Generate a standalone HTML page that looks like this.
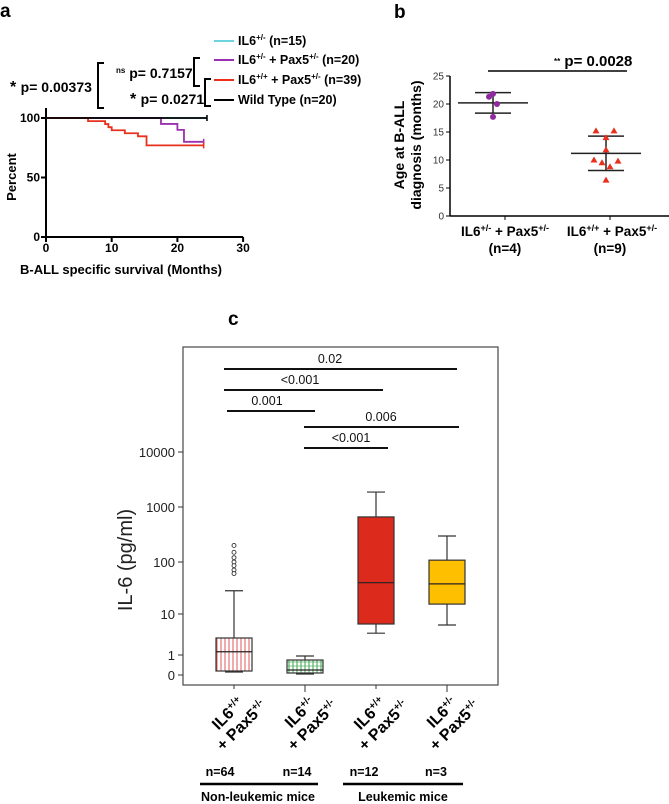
<!DOCTYPE html>
<html><head><meta charset="utf-8"><style>
html,body{margin:0;padding:0;background:#fff;}
svg{display:block;font-family:"Liberation Sans",Arial,sans-serif;}
.b{font-weight:bold;}
</style></head><body>
<svg id="fig" width="669" height="804" viewBox="0 0 669 804" xmlns="http://www.w3.org/2000/svg">
<g id="pa">
<text x="0" y="17" class="b" font-size="19">a</text>
</g>
<g id="pb">
<text x="394" y="18" class="b" font-size="19">b</text>
</g>
<g id="pc">
<text x="228" y="325" class="b" font-size="19">c</text>
</g>
</svg>
<script>
// ---------- Panel A data ----------
const aXTicks=[0,10,20,30];
const aYTicks=[0,50,100];
const redTimes=[6.4,9.0,9.5,10.0,12.0,14.0,15.3];
const redSurv=[97.4,94.9,92.3,89.7,87.2,84.6,77];
const purpleTimes=[17.5,20.0,21.0];
const purpleSurv=[95,90,80];
const blackEnd=24.5, redEnd=24, purpleEnd=24, cyanEnd=24.5;
// ---------- Panel B data ----------
const bGroups=["IL6+/- + Pax5+/-","IL6+/+ + Pax5+/-"];
const bPurple=[21.3,21.8,20.0,17.7];
const bRed=[15.2,15.2,14.0,11.8,10.0,9.5,9.8,8.8,6.4];
const bYTicks=[0,5,10,15,20,25];
// ---------- Panel C data ----------
const cTicks=[0,1,10,100,1000,10000];
const cGroups=["IL6+/+|+ Pax5+/-","IL6+/-|+ Pax5+/-","IL6+/+|+ Pax5+/-","IL6+/-|+ Pax5+/-"];
const cN=["n=64","n=14","n=12","n=3"];
const cWhiskLo=[0.15,0.05,3.4,5.4];
const cQ1=[0.2,0.1,5.7,15.5];
const cMed=[1.2,0.25,40,38];
const cQ3=[2.6,0.75,660,108];
const cWhiskHi=[28,0.95,1870,297];
const cOutliers=[[200,150,120,100,85,70,60],[],[],[]];
const cSig=[["0.02",0,3,0],["<0.001",0,2,1],["0.001",0,1,2],["0.006",1,3,3],["<0.001",1,2,4]];

const NS="http://www.w3.org/2000/svg";
function mk(tag,attrs,parent,txt){const e=document.createElementNS(NS,tag);for(const k in attrs)e.setAttribute(k,attrs[k]);if(txt!==undefined)e.textContent=txt;parent.appendChild(e);return e;}

// ===== Panel A =====
const pa=document.getElementById('pa');
const ax=m=>46+m*6.57, ay=p=>237-p*1.19;
let e;
e=mk('line',{x1:46,y1:ay(0),x2:ax(30),y2:ay(0),stroke:'#000','stroke-width':2},pa);

e=mk('line',{x1:46,y1:ay(0),x2:46,y2:108,stroke:'#000','stroke-width':2},pa);

aXTicks.forEach(v=>{mk('line',{x1:ax(v),y1:ay(0),x2:ax(v),y2:ay(0)+5,stroke:'#000','stroke-width':2},pa);
 e=mk('text',{x:ax(v),y:252,'text-anchor':'middle','font-size':12,class:'b'},pa,v);
 });
aYTicks.forEach(v=>{mk('line',{x1:41,y1:ay(v),x2:46,y2:ay(v),stroke:'#000','stroke-width':2},pa);
 e=mk('text',{x:40,y:ay(v)+4,'text-anchor':'end','font-size':12,class:'b'},pa,v);
 });
e=mk('text',{x:0,y:0,transform:'translate(16,177) rotate(-90)','text-anchor':'middle','font-size':13,class:'b'},pa,'Percent');

e=mk('text',{x:20,y:274,'font-size':13,class:'b'},pa,'B-ALL specific survival (Months)');

function km(times,surv,end,color,name){let d='M'+ax(0)+','+ay(100);let s=100;
 times.forEach((t,i)=>{d+=' H'+ax(t)+' V'+ay(surv[i]);s=surv[i];});d+=' H'+ax(end);
 const p=mk('path',{d:d,fill:'none',stroke:color,'stroke-width':1.8},pa);
 
 mk('line',{x1:ax(end),y1:ay(s)-3,x2:ax(end),y2:ay(s)+3,stroke:color,'stroke-width':1.5},pa);}
km([],[],cyanEnd,'#6fd3e0','cyan-curve');
km(purpleTimes,purpleSurv,purpleEnd,'#9b30b0','purple-curve');
km(redTimes,redSurv,redEnd,'#e8301c','red-curve');
km([],[],blackEnd,'#000','black-curve');
// legend
const leg=[['#6fd3e0','IL6','+/-',' (n=15)',45],['#9b30b0','IL6','+/-',' + Pax5+/- (n=20)',64],['#e8301c','IL6','+/+',' + Pax5+/- (n=39)',84],['#000','Wild Type (n=20)','','',104]];
leg.forEach((l,i)=>{mk('line',{x1:214,y1:l[4]-4,x2:234,y2:l[4]-4,stroke:l[0],'stroke-width':2},pa);
 const t=mk('text',{x:238,y:l[4],'font-size':12.5,class:'b'},pa);
 
 if(i<3){mk('tspan',{},t,l[1]);mk('tspan',{'font-size':8,dy:-5},t,l[2]);
  if(i==0){mk('tspan',{dy:5},t,' (n=15)');}
  else{mk('tspan',{dy:5},t,' + Pax5');mk('tspan',{'font-size':8,dy:-5},t,'+/-');mk('tspan',{dy:5},t,i==1?' (n=20)':' (n=39)');}}
 else t.textContent=l[1];});
// brackets
const br=(x,y1,y2,dir)=>mk('path',{d:`M${x+dir*6},${y1} H${x} V${y2} H${x+dir*6}`,fill:'none',stroke:'#000','stroke-width':2},pa);
br(98,63,108,1); br(194,58,86,1); br(205,79,106,1);
e=mk('text',{x:10,y:92,'font-size':14,class:'b'},pa);mk('tspan',{'font-size':16},e,'* ');mk('tspan',{},e,'p= 0.00373');

e=mk('text',{x:116,y:78,'font-size':14,class:'b'},pa);mk('tspan',{'font-size':8,dy:-5},e,'ns');mk('tspan',{dy:5},e,' p= 0.7157');

e=mk('text',{x:130,y:104,'font-size':14,class:'b'},pa);mk('tspan',{'font-size':16},e,'* ');mk('tspan',{},e,'p= 0.0271');


// ===== Panel B =====
const pb=document.getElementById('pb');
const by=v=>216-v*5.6; const bx=[505,610];
e=mk('line',{x1:450,y1:216,x2:669,y2:216,stroke:'#000','stroke-width':1.5},pb);

e=mk('line',{x1:450,y1:216,x2:450,y2:by(25),stroke:'#000','stroke-width':1.5},pb);

bYTicks.forEach(v=>{mk('line',{x1:446,y1:by(v),x2:450,y2:by(v),stroke:'#000'},pb);
 e=mk('text',{x:444,y:by(v)+3.5,'text-anchor':'end','font-size':10,fill:'#333'},pb,v);
 });
bx.forEach(x=>mk('line',{x1:x,y1:216,x2:x,y2:220,stroke:'#000'},pb));
e=mk('text',{transform:'translate(404,145) rotate(-90)','text-anchor':'middle','font-size':14,class:'b'},pb,'Age at B-ALL');

e=mk('text',{transform:'translate(421,145) rotate(-90)','text-anchor':'middle','font-size':14,class:'b'},pb,'diagnosis (months)');

function grpLabel(x,a){const t=mk('text',{x:x,y:236,'text-anchor':'middle','font-size':13.5,class:'b'},pb);
 
 mk('tspan',{},t,'IL6');mk('tspan',{'font-size':9,dy:-5},t,a);mk('tspan',{dy:5},t,' + Pax5');mk('tspan',{'font-size':9,dy:-5},t,'+/-');}
grpLabel(505,'+/-');grpLabel(612,'+/+');
mk('text',{x:505,y:253,'text-anchor':'middle','font-size':13.5,class:'b'},pb,'(n=4)');
mk('text',{x:610,y:253,'text-anchor':'middle','font-size':13.5,class:'b'},pb,'(n=9)');
function stats(a){const m=a.reduce((s,v)=>s+v,0)/a.length;const sd=Math.sqrt(a.reduce((s,v)=>s+(v-m)*(v-m),0)/(a.length-1));return [m,sd];}
[[bPurple,'#8e2b9e',0],[bRed,'#e8301c',1]].forEach(([arr,col,g])=>{
 const [m,sd]=stats(arr);const cx=bx[g]+(g==0?-12:-4);
 mk('line',{x1:cx-35,y1:by(m),x2:cx+35,y2:by(m),stroke:'#222','stroke-width':1.5},pb);
 [m-sd,m+sd].forEach(v=>mk('line',{x1:cx-18,y1:by(v),x2:cx+18,y2:by(v),stroke:'#222','stroke-width':1.5},pb));
 mk('line',{x1:cx,y1:by(m-sd),x2:cx,y2:by(m+sd),stroke:'#222','stroke-width':1.5},pb);
 const offs=g==0?[-4,0,4,0]:[-10,8,0,0,-12,-4,12,4,0];
 arr.forEach((v,i)=>{const x=cx+offs[i%offs.length],y=by(v);let p;
  if(g==0)p=mk('circle',{cx:x,cy:y,r:3,fill:col},pb);
  else p=mk('path',{d:`M${x},${y-3.5} L${x+3.5},${y+2.5} L${x-3.5},${y+2.5} Z`,fill:col},pb);
  });});
mk('line',{x1:488,y1:71,x2:627,y2:71,stroke:'#000','stroke-width':1.5},pb);
e=mk('text',{x:554,y:66,'font-size':15,class:'b'},pb);mk('tspan',{'font-size':8,dy:-2},e,'**');mk('tspan',{dy:2},e,'  p= 0.0028');


// ===== Panel C =====
const pc=document.getElementById('pc');
const tickY=[675,655,614,562,507,452];
function cy(v){if(v<=1)return tickY[0]+(tickY[1]-tickY[0])*v;
 const l=Math.log10(v);const i=Math.min(Math.floor(l),3);return tickY[i+1]+(tickY[i+2]-tickY[i+1])*(l-i);}
const cx=[234,305,376,447];
e=mk('rect',{x:183,y:347,width:315,height:338,fill:'none',stroke:'#555','stroke-width':1.3},pc);

cTicks.forEach(v=>{mk('line',{x1:178,y1:cy(v),x2:183,y2:cy(v),stroke:'#333'},pc);
 e=mk('text',{x:175,y:cy(v)+5,'text-anchor':'end','font-size':13,fill:'#222'},pc,v);
 });
e=mk('text',{transform:'translate(132,560) rotate(-90)','text-anchor':'middle','font-size':20,fill:'#222'},pc,'IL-6 (pg/ml)');

const defs=mk('defs',{},pc);
const p1=mk('pattern',{id:'hr',width:4,height:4,patternUnits:'userSpaceOnUse'},defs);
mk('rect',{width:4,height:4,fill:'#fff'},p1);mk('line',{x1:1,y1:0,x2:1,y2:4,stroke:'#e05a5a','stroke-width':1},p1);
const p2=mk('pattern',{id:'hg',width:4,height:4,patternUnits:'userSpaceOnUse'},defs);
mk('rect',{width:4,height:4,fill:'#fff'},p2);mk('line',{x1:1,y1:0,x2:1,y2:4,stroke:'#3aa64a','stroke-width':1},p2);mk('line',{x1:0,y1:2,x2:4,y2:2,stroke:'#3aa64a','stroke-width':0.6},p2);
const fills=['url(#hr)','url(#hg)','#dc2a1c','#fdbf00'];
cx.forEach((x,i)=>{const w=36;
 mk('line',{x1:x,y1:cy(cWhiskHi[i]),x2:x,y2:cy(cWhiskLo[i]),stroke:'#333','stroke-width':1.2},pc);
 mk('line',{x1:x-9,y1:cy(cWhiskHi[i]),x2:x+9,y2:cy(cWhiskHi[i]),stroke:'#333','stroke-width':1.2},pc);
 mk('line',{x1:x-9,y1:cy(cWhiskLo[i]),x2:x+9,y2:cy(cWhiskLo[i]),stroke:'#333','stroke-width':1.2},pc);
 const r=mk('rect',{x:x-w/2,y:cy(cQ3[i]),width:w,height:cy(cQ1[i])-cy(cQ3[i]),fill:fills[i],stroke:'#333','stroke-width':1.2},pc);
 
 mk('line',{x1:x-w/2,y1:cy(cMed[i]),x2:x+w/2,y2:cy(cMed[i]),stroke:'#222','stroke-width':1.2},pc);
 cOutliers[i].forEach(v=>{const o=mk('circle',{cx:x,cy:cy(v),r:2,fill:'#fff',stroke:'#333','stroke-width':0.9},pc);
  });
 mk('line',{x1:x,y1:685,x2:x,y2:i%2?692:689,stroke:'#333'},pc);
 const [l1,l2]=cGroups[i].split('|');
 const g=mk('g',{transform:`translate(${x+11},704) rotate(-45)`},pc);
 
 const t1=mk('text',{x:0,y:0,'text-anchor':'end','font-size':16,class:'b'},g);
 mk('tspan',{},t1,l1.slice(0,3));mk('tspan',{'font-size':10,dy:-6},t1,l1.slice(3));
 const t2=mk('text',{x:14,y:18,'text-anchor':'end','font-size':16,class:'b'},g);
 mk('tspan',{},t2,'+ Pax5');mk('tspan',{'font-size':10,dy:-6},t2,'+/-');
 e=mk('text',{x:[220,297,364,436][i],y:776,'text-anchor':'middle','font-size':12.5,class:'b'},pc,cN[i]);
 });
const sigY=[369,390,411,427,448],sigTX=[330,300,267,381,351];
cSig.forEach(([lab,a,b,k])=>{const x1=a==0?224:304,x2=[0,315,388,459][b];
 const xs=(k==2?227:x1), xe=(k==0?457:(k==1?383:x2));
 mk('line',{x1:xs,y1:sigY[k],x2:xe,y2:sigY[k],stroke:'#111','stroke-width':2},pc);
 e=mk('text',{x:sigTX[k],y:sigY[k]-6,'text-anchor':'middle','font-size':12.5,fill:'#111'},pc,lab);
 });
mk('line',{x1:200,y1:784,x2:318,y2:784,stroke:'#000','stroke-width':2.5},pc);
mk('line',{x1:343,y1:784,x2:463,y2:784,stroke:'#000','stroke-width':2.5},pc);
e=mk('text',{x:258,y:801,'text-anchor':'middle','font-size':12.5,class:'b'},pc,'Non-leukemic mice');

e=mk('text',{x:403,y:801,'text-anchor':'middle','font-size':12.5,class:'b'},pc,'Leukemic mice');

</script>
</body></html>
